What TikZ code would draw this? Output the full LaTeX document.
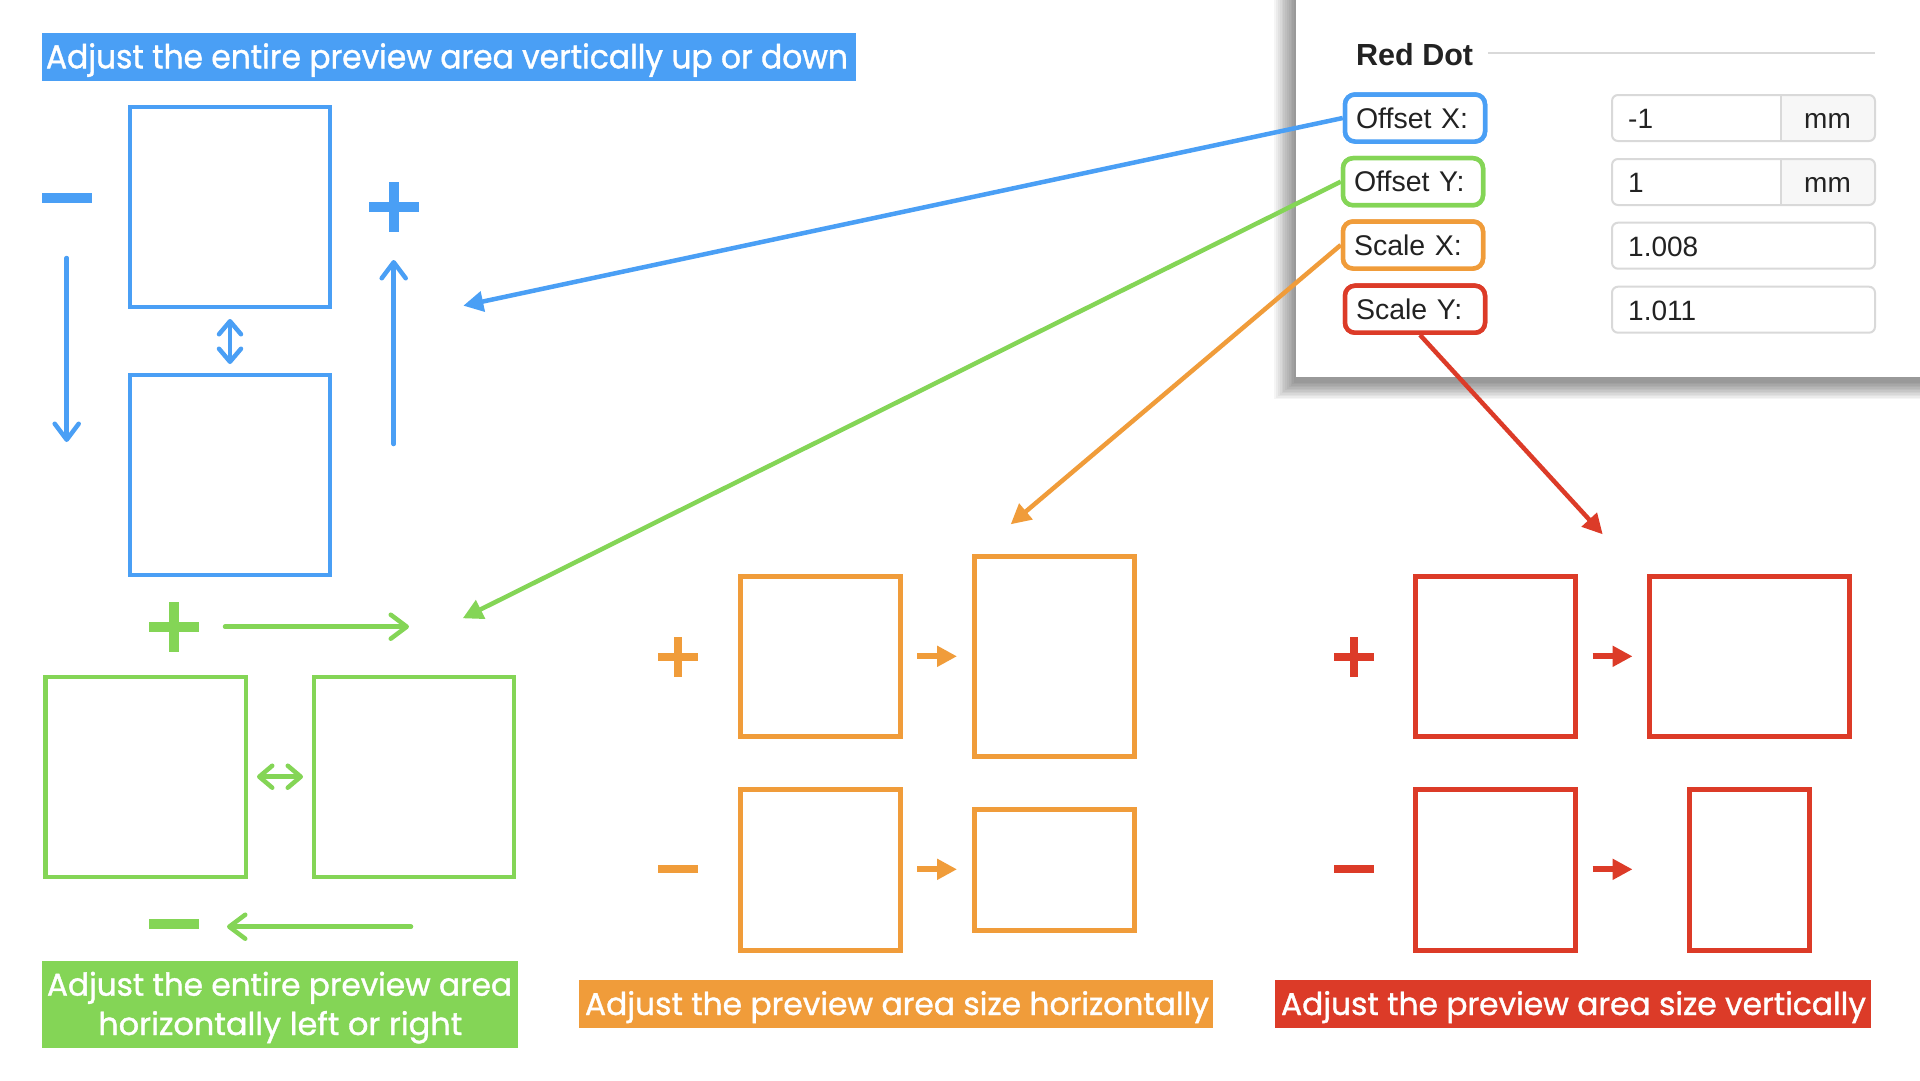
\documentclass[tikz,border=0pt]{standalone}
\usepackage{fontspec}
\usepackage{graphicx}
\setmainfont{Liberation Sans}
\newfontfamily\popfont[FakeBold=1.2]{Poppins}
\usetikzlibrary{arrows.meta}
\definecolor{cblue}{HTML}{4A9FF5}
\definecolor{cgreen}{HTML}{84D556}
\definecolor{corange}{HTML}{F09C3A}
\definecolor{cred}{HTML}{DC3B28}
\definecolor{ctext}{HTML}{222222}
\definecolor{cfield}{HTML}{D9D9D9}
\definecolor{cfieldbg}{HTML}{F7F7F7}
\newcommand\mkplus[5]{%
  \fill[#1] (#2-#4,#3-#5) rectangle (#2+#4,#3+#5);
  \fill[#1] (#2-#5,#3-#4) rectangle (#2+#5,#3+#4);}
\newcommand\mkminus[5]{%
  \fill[#1] (#2-#4,#3-#5) rectangle (#2+#4,#3+#5);}
\tikzset{
  plab/.style={draw=#1, line width=4.5pt, rounded corners=10pt, fill=white,
    minimum height=47pt, text width=118pt, inner xsep=11pt, inner ysep=0pt, align=left,
    text=ctext, font=\fontsize{28.5}{32}\selectfont},
  ftext/.style={anchor=base west, inner sep=0pt, text=ctext, font=\fontsize{28}{32}\selectfont},
  fieldbox/.style={draw=cfield, line width=2pt, rounded corners=6pt},
  pbox/.style={draw=#1, line width=4.5pt},
  sbox/.style={draw=#1, line width=5pt},
  barb/.style={draw=#1, line width=4.5pt, line cap=round, -{Straight Barb[length=16pt,width=24pt,round]}},
  dbarb/.style={draw=#1, line width=4.5pt, {Straight Barb[length=13pt,width=22pt,round]}-{Straight Barb[length=13pt,width=22pt,round]}},
  conn/.style={draw=#1, line width=4.5pt, -{Triangle[length=20pt,width=20pt]}},
  small/.style={draw=#1, line width=6pt, -{Triangle[length=20pt,width=20pt]}},
  labtext/.style={anchor=base, inner sep=0pt, text=white, font=\popfont\fontsize{#1}{#1}\selectfont},
}
\begin{document}
\begin{tikzpicture}[x=1pt,y=-1pt]
\useasboundingbox (0,0) rectangle (1920,1080);
\fill[white] (0,0) rectangle (1920,1080);

% ---------- settings panel ----------
\foreach \i in {1,...,12}{
  \fill[black, opacity=0.04] (1296-1.8*\i,0) rectangle (1920,377+4+1.5*\i);
}
\fill[white] (1296,0) rectangle (1920,377);
\node[anchor=base west, inner sep=0pt, text=ctext, font=\bfseries\fontsize{30.5}{34}\selectfont] (title) at (1356,65.7) {Red Dot};
\draw[cfield, line width=2pt] (1488,53.3) -- (1875,53.3);

% input fields
\foreach \yc/\val/\unit in {118/-1/1, 182/1/1, 245.7/1.008/0, 309.7/1.011/0}{
  \ifnum\unit=1
    \begin{scope}
      \clip[rounded corners=6pt] (1612,\yc-23) rectangle (1875,\yc+23);
      \fill[cfieldbg] (1780.6,\yc-23) rectangle (1875,\yc+23);
    \end{scope}
    \draw[cfield, line width=2pt] (1780.6,\yc-23) -- (1780.6,\yc+23);
    \node[anchor=base, inner sep=0pt, text=ctext, font=\fontsize{28}{32}\selectfont] at (1827.5,\yc+10.3) {mm};
  \fi
  \draw[fieldbox] (1612,\yc-23) rectangle (1875,\yc+23);
  \node[ftext] at (1628,\yc+10.3) {\val};
}

% connectors (under the label boxes)
\coordinate (tipb) at (463.3,305.7);
\coordinate (tipg) at (462.7,618.3);
\coordinate (tipo) at (1010.7,524.3);
\coordinate (tipr) at (1602.7,534.3);
\coordinate (ox0) at (1415,118);
\coordinate (oy0) at (1413,181.7);
\coordinate (sx0) at (1413,245);
\coordinate (sy0) at (1415,309.2);

\node[plab=cblue] (ox) at (ox0) {Offset X:};
\node[plab=cgreen] (oy) at (oy0) {Offset Y:};
\node[plab=corange] (sx) at (sx0) {Scale X:};
\node[plab=cred] (sy) at (sy0) {Scale Y:};

\draw[conn=cblue] (ox.west) -- (tipb);
\draw[conn=cgreen] (oy.west) -- (tipg);
\draw[conn=corange] (sx.west) -- (tipo);
\draw[conn=cred] ([xshift=5pt]sy.south) -- (tipr);

\node[plab=cblue] at (ox0) {Offset X:};
\node[plab=cgreen] at (oy0) {Offset Y:};
\node[plab=corange] at (sx0) {Scale X:};
\node[plab=cred] at (sy0) {Scale Y:};

% ---------- blue: vertical offset ----------
\fill[cblue] (41.6,33.3) rectangle (855.8,81);
\node[labtext=33] (tblue) at (447,68.3) {\resizebox{802pt}{\height}{Adjust the entire preview area vertically up or down}};
\draw[pbox=cblue] (130,107) rectangle (330,307);
\draw[pbox=cblue] (130,375) rectangle (330,575);
\mkminus{cblue}{67}{197.7}{25}{5}
\mkplus{cblue}{393.5}{207}{25}{5}
\draw[barb=cblue] (66.7,258) -- (66.7,442);
\draw[barb=cblue] (393.7,444) -- (393.7,260);
\draw[dbarb=cblue] (230,319) -- (230,364);

% ---------- green: horizontal offset ----------
\mkplus{cgreen}{174}{627}{25}{5}
\mkminus{cgreen}{174}{924}{25}{5}
\draw[barb=cgreen] (225,626.7) -- (409,626.7);
\draw[barb=cgreen] (411,926.7) -- (227,926.7);
\draw[pbox=cgreen] (45.5,677) rectangle (246,877);
\draw[pbox=cgreen] (314,677) rectangle (514,877);
\draw[dbarb=cgreen] (257,776.7) -- (303,776.7);
\fill[cgreen] (42,961) rectangle (517.7,1048.3);
\node[labtext=31.5] (tgreen1) at (279.5,995.7) {\resizebox{465pt}{\height}{Adjust the entire preview area}};
\node[labtext=31.5] (tgreen2) at (280.3,1035) {\resizebox{364pt}{\height}{horizontally left or right}};

% ---------- orange: horizontal size ----------
\mkplus{corange}{678.3}{656.5}{20}{4}
\mkminus{corange}{678.3}{869}{20}{4}
\draw[sbox=corange] (740.5,576) rectangle (900,736);
\draw[sbox=corange] (974,556) rectangle (1134.5,756.5);
\draw[sbox=corange] (740.5,789) rectangle (900,950);
\draw[sbox=corange] (974,809) rectangle (1134.5,930);
\draw[small=corange] (917,656.3) -- (957,656.3);
\draw[small=corange] (917,869.3) -- (957,869.3);
\fill[corange] (579.4,980) rectangle (1213,1028.3);
\node[labtext=31.5] (torange) at (897,1015) {\resizebox{624pt}{\height}{Adjust the preview area size horizontally}};

% ---------- red: vertical size ----------
\mkplus{cred}{1353.6}{656.7}{20}{4}
\mkminus{cred}{1353.6}{869}{20}{4}
\draw[sbox=cred] (1415,576) rectangle (1575.5,736);
\draw[sbox=cred] (1649,576) rectangle (1849,736);
\draw[sbox=cred] (1415,789) rectangle (1575.5,950);
\draw[sbox=cred] (1689.5,789) rectangle (1809,950);
\draw[small=cred] (1592.5,656.3) -- (1632.5,656.3);
\draw[small=cred] (1592.5,869.3) -- (1632.5,869.3);
\fill[cred] (1275,980) rectangle (1871,1028.3);
\node[labtext=31.5] (tred) at (1573.5,1015) {\resizebox{585pt}{\height}{Adjust the preview area size vertically}};
\end{tikzpicture}
\end{document}
